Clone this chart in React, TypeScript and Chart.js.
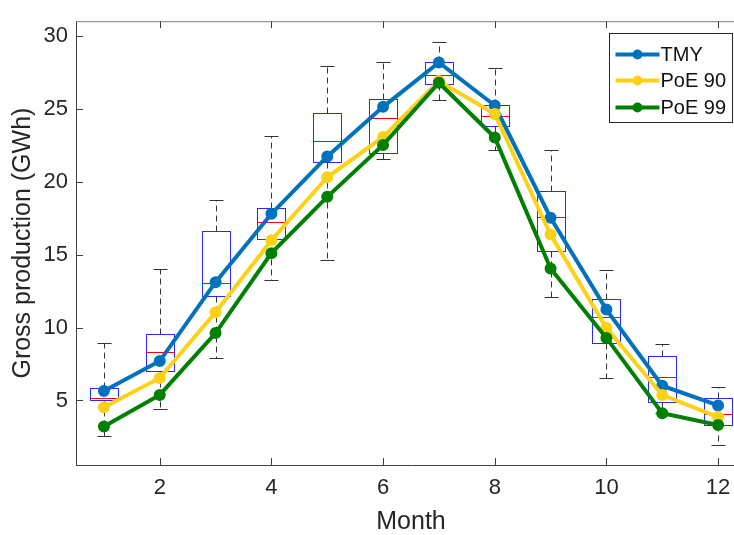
import React, { useEffect, useRef } from "react";
import { Chart, registerables } from "chart.js";

Chart.register(...registerables);

const months = [1, 2, 3, 4, 5, 6, 7, 8, 9, 10, 11, 12];
const xTickValues = [2, 4, 6, 8, 10, 12];
const yTickValues = [5, 10, 15, 20, 25, 30];

const tmy = [5.65, 7.7, 13.11, 17.8, 21.73, 25.13, 28.17, 25.22, 17.53, 11.23, 6.01, 4.66];
const poe90 = [4.53, 6.54, 11.05, 15.99, 20.3, 23.07, 26.9, 24.64, 16.37, 9.96, 5.38, 3.86];
const poe99 = [3.21, 5.38, 9.62, 15.1, 18.96, 22.52, 26.78, 23.03, 14.05, 9.29, 4.13, 3.32];

const boxQ1 = [5.0, 7.01, 12.19, 16.06, 21.35, 21.96, 26.69, 23.81, 15.25, 8.91, 4.87, 3.32];
const boxMedian = [5.2, 8.33, 13.06, 17.22, 22.81, 24.39, 27.32, 24.48, 17.6, 10.72, 6.61, 4.04];
const boxQ3 = [5.83, 9.58, 16.64, 18.2, 24.73, 25.66, 28.17, 25.26, 19.34, 11.95, 8.06, 5.2];
const whiskerLow = [2.59, 4.44, 7.9, 13.26, 14.63, 21.53, 25.6, 22.14, 12.08, 6.54, 4.11, 1.98];
const whiskerHigh = [8.95, 13.98, 18.72, 23.16, 27.9, 28.21, 29.58, 27.77, 22.18, 13.93, 8.84, 5.89];

const seriesLabels = ["TMY", "PoE 90", "PoE 99"];
const seriesColors = ["#0072BD", "#FCD116", "#008000"];

const FONT = "'Liberation Sans', Arial, Helvetica, sans-serif";

export default function App() {
  const ref = useRef<HTMLCanvasElement>(null);

  useEffect(() => {
    const canvas = ref.current;
    if (!canvas) return;

    const boxPlugin = {
      id: "boxes",
      beforeDatasetsDraw(chart: any) {
        const { ctx } = chart;
        const x = chart.scales.x;
        const y = chart.scales.y;
        ctx.save();
        months.forEach((m, i) => {
          const xc = Math.round(x.getPixelForValue(m)) + 0.5;
          const xl = Math.round(x.getPixelForValue(m - 0.25)) + 0.5;
          const xr = Math.round(x.getPixelForValue(m + 0.25)) + 0.5;
          const cl = Math.round(x.getPixelForValue(m - 0.125)) + 0.5;
          const cr = Math.round(x.getPixelForValue(m + 0.125)) + 0.5;
          const yq1 = Math.round(y.getPixelForValue(boxQ1[i])) + 0.5;
          const yq3 = Math.round(y.getPixelForValue(boxQ3[i])) + 0.5;
          const ymed = Math.round(y.getPixelForValue(boxMedian[i])) + 0.5;
          const ylo = Math.round(y.getPixelForValue(whiskerLow[i])) + 0.5;
          const yhi = Math.round(y.getPixelForValue(whiskerHigh[i])) + 0.5;

          ctx.lineWidth = 1;
          ctx.strokeStyle = "#333333";
          ctx.setLineDash([6, 4]);
          ctx.beginPath();
          ctx.moveTo(xc, yq3);
          ctx.lineTo(xc, yhi);
          ctx.moveTo(xc, yq1);
          ctx.lineTo(xc, ylo);
          ctx.stroke();
          ctx.setLineDash([]);
          ctx.beginPath();
          ctx.moveTo(cl, yhi);
          ctx.lineTo(cr, yhi);
          ctx.moveTo(cl, ylo);
          ctx.lineTo(cr, ylo);
          ctx.stroke();

          ctx.strokeStyle = "#2a2aff";
          ctx.strokeRect(xl, yq3, xr - xl, yq1 - yq3);

          ctx.strokeStyle = "#ff0000";
          ctx.beginPath();
          ctx.moveTo(xl, ymed);
          ctx.lineTo(xr, ymed);
          ctx.stroke();
        });
        ctx.restore();
      },
    };

    const decorPlugin = {
      id: "decor",
      afterDraw(chart: any) {
        const { ctx, chartArea } = chart;
        const x = chart.scales.x;
        const y = chart.scales.y;
        const tl = 7;
        ctx.save();
        // top border
        ctx.strokeStyle = "#808080";
        ctx.lineWidth = 1;
        ctx.beginPath();
        ctx.moveTo(chartArea.left, chartArea.top + 0.5);
        ctx.lineTo(chartArea.right, chartArea.top + 0.5);
        ctx.stroke();
        // inward ticks
        ctx.strokeStyle = "#404040";
        ctx.beginPath();
        xTickValues.forEach((v) => {
          const px = Math.round(x.getPixelForValue(v)) + 0.5;
          ctx.moveTo(px, chartArea.bottom);
          ctx.lineTo(px, chartArea.bottom - tl);
          ctx.moveTo(px, chartArea.top);
          ctx.lineTo(px, chartArea.top + tl);
        });
        yTickValues.forEach((v) => {
          const py = Math.round(y.getPixelForValue(v)) + 0.5;
          ctx.moveTo(chartArea.left, py);
          ctx.lineTo(chartArea.left + tl, py);
        });
        ctx.stroke();

        // legend
        const lw = 123;
        const lh = 89;
        const lx = Math.round(chartArea.right - 14 - lw) + 0.5;
        const ly = Math.round(chartArea.top + 12) + 0.5;
        ctx.fillStyle = "#ffffff";
        ctx.fillRect(lx, ly, lw, lh);
        ctx.strokeStyle = "#262626";
        ctx.lineWidth = 1;
        ctx.strokeRect(lx, ly, lw, lh);
        const rowY = [21, 47, 74];
        seriesLabels.forEach((label, i) => {
          const yy = ly + rowY[i];
          ctx.strokeStyle = seriesColors[i];
          ctx.lineWidth = 4;
          ctx.beginPath();
          ctx.moveTo(lx + 6, yy);
          ctx.lineTo(lx + 50, yy);
          ctx.stroke();
          ctx.fillStyle = seriesColors[i];
          ctx.beginPath();
          ctx.arc(lx + 28, yy, 5, 0, Math.PI * 2);
          ctx.fill();
          ctx.fillStyle = "#111111";
          ctx.font = `20px ${FONT}`;
          ctx.textAlign = "left";
          ctx.textBaseline = "middle";
          ctx.fillText(label, lx + 51, yy + 1);
        });
        ctx.restore();
      },
    };

    const makeSet = (label: string, data: number[], color: string) => ({
      label,
      data: months.map((m, i) => ({ x: m, y: data[i] })),
      borderColor: color,
      backgroundColor: color,
      borderWidth: 4,
      pointRadius: 5,
      pointBorderWidth: 2,
      pointBackgroundColor: color,
      pointBorderColor: color,
      pointStyle: "circle",
      tension: 0,
    });

    const chart = new Chart(canvas, {
      type: "line",
      data: {
        datasets: [
          makeSet(seriesLabels[2], poe99, seriesColors[2]),
          makeSet(seriesLabels[1], poe90, seriesColors[1]),
          makeSet(seriesLabels[0], tmy, seriesColors[0]),
        ],
      },
      options: {
        responsive: false,
        maintainAspectRatio: false,
        animation: false,
        layout: { padding: { left: 0, top: 11, right: 14, bottom: 0 } },
        plugins: {
          legend: { display: false },
          tooltip: { enabled: false },
        },
        scales: {
          x: {
            type: "linear",
            min: 0.5,
            max: 12.5,
            afterBuildTicks: (scale: any) => {
              scale.ticks = xTickValues.map((v) => ({ value: v }));
            },
            afterFit: (scale: any) => {
              scale.height = 70;
            },
            grid: { display: false, drawTicks: false, tickLength: 0 },
            border: { display: true, color: "#404040", width: 1 },
            ticks: {
              padding: 10,
              color: "#262626",
              font: { family: FONT, size: 22 },
              maxRotation: 0,
              autoSkip: false,
            },
            title: {
              display: true,
              text: "Month",
              color: "#262626",
              font: { family: FONT, size: 25, lineHeight: 1 },
              padding: { top: 0, bottom: 0 },
            },
          },
          y: {
            type: "linear",
            min: 0.576,
            max: 31.0,
            afterBuildTicks: (scale: any) => {
              scale.ticks = yTickValues.map((v) => ({ value: v }));
            },
            afterFit: (scale: any) => {
              scale.width = 76;
            },
            grid: { display: false, drawTicks: false, tickLength: 0 },
            border: { display: true, color: "#404040", width: 1 },
            ticks: {
              padding: 8,
              color: "#262626",
              font: { family: FONT, size: 22 },
              autoSkip: false,
            },
            title: {
              display: true,
              text: "Gross production (GWh)",
              color: "#262626",
              font: { family: FONT, size: 25, lineHeight: 1 },
              padding: { top: 11, bottom: 0 },
            },
          },
        },
      },
      plugins: [boxPlugin, decorPlugin],
    });

    return () => chart.destroy();
  }, []);

  return (
    <div
      style={{
        position: "fixed",
        left: 0,
        top: 0,
        width: 734,
        height: 535,
        overflow: "hidden",
        background: "#ffffff",
      }}
    >
      <canvas ref={ref} width={760} height={535} style={{ display: "block", width: 760, height: 535 }} />
    </div>
  );
}
